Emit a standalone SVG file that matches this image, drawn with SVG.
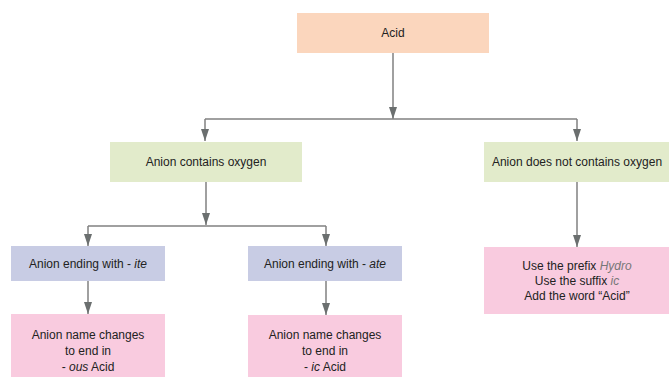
<svg xmlns="http://www.w3.org/2000/svg" width="669" height="379" viewBox="0 0 669 379">
<defs>
<marker id="ah" markerWidth="12" markerHeight="8" refX="12" refY="4" orient="auto" markerUnits="userSpaceOnUse">
<path d="M0,0 L12,4 L0,8 Z" fill="#6b6f6f"/>
</marker>
<style>
.c{fill:none;stroke:#808080;stroke-width:1.5}
.a{marker-end:url(#ah)}
text{font-family:"Liberation Sans",Arial,sans-serif;font-size:12px;fill:#222;text-anchor:middle}
.i{font-style:italic}
.g{fill:#777}
</style>
</defs>
<rect width="669" height="379" fill="#fff"/>
<g id="connectors">
<path class="c a" d="M393,53 V119"/>
<path class="c" d="M205,119 H577"/>
<path class="c a" d="M205,119 V141"/>
<path class="c a" d="M577,119 V141"/>
<path class="c a" d="M206,182 V225"/>
<path class="c" d="M88,226 H326"/>
<path class="c a" d="M88,226 V246"/>
<path class="c a" d="M326,226 V246"/>
<path class="c a" d="M577,182 V247"/>
<path class="c a" d="M88,281 V314"/>
<path class="c a" d="M326,281 V315"/>
</g>
<g id="acid">
<rect x="297" y="13" width="192" height="40" fill="#fbd6bd"/>
<text x="393" y="37">Acid</text>
</g>
<g id="oxygen">
<rect x="110" y="142" width="192" height="40" fill="#e2ebcb"/>
<text x="206" y="166">Anion contains oxygen</text>
</g>
<g id="nooxygen">
<rect x="484" y="142" width="185" height="40" fill="#e2ebcb"/>
<text x="577" y="166">Anion does not contains oxygen</text>
</g>
<g id="ite">
<rect x="11" y="246" width="154" height="35" fill="#c8cce4"/>
<text x="88" y="268">Anion ending with - <tspan class="i">ite</tspan></text>
</g>
<g id="ate">
<rect x="248" y="246" width="154" height="35" fill="#c8cce4"/>
<text x="325" y="268">Anion ending with - <tspan class="i">ate</tspan></text>
</g>
<g id="ous">
<rect x="11" y="314" width="154" height="63" fill="#f9cbdf"/>
<text x="88" y="339">Anion name changes</text>
<text x="88" y="355">to end in</text>
<text x="88" y="371">- <tspan class="i">ous</tspan> Acid</text>
</g>
<g id="ic">
<rect x="248" y="315" width="154" height="62" fill="#f9cbdf"/>
<text x="325" y="339">Anion name changes</text>
<text x="325" y="355">to end in</text>
<text x="325" y="371">- <tspan class="i">ic</tspan> Acid</text>
</g>
<g id="hydro">
<rect x="484" y="247" width="185" height="67" fill="#f9cbdf"/>
<text x="577" y="270">Use the prefix <tspan class="i g">Hydro</tspan></text>
<text x="577" y="285">Use the suffix <tspan class="i g">ic</tspan></text>
<text x="577" y="300">Add the word “Acid”</text>
</g>
</svg>
